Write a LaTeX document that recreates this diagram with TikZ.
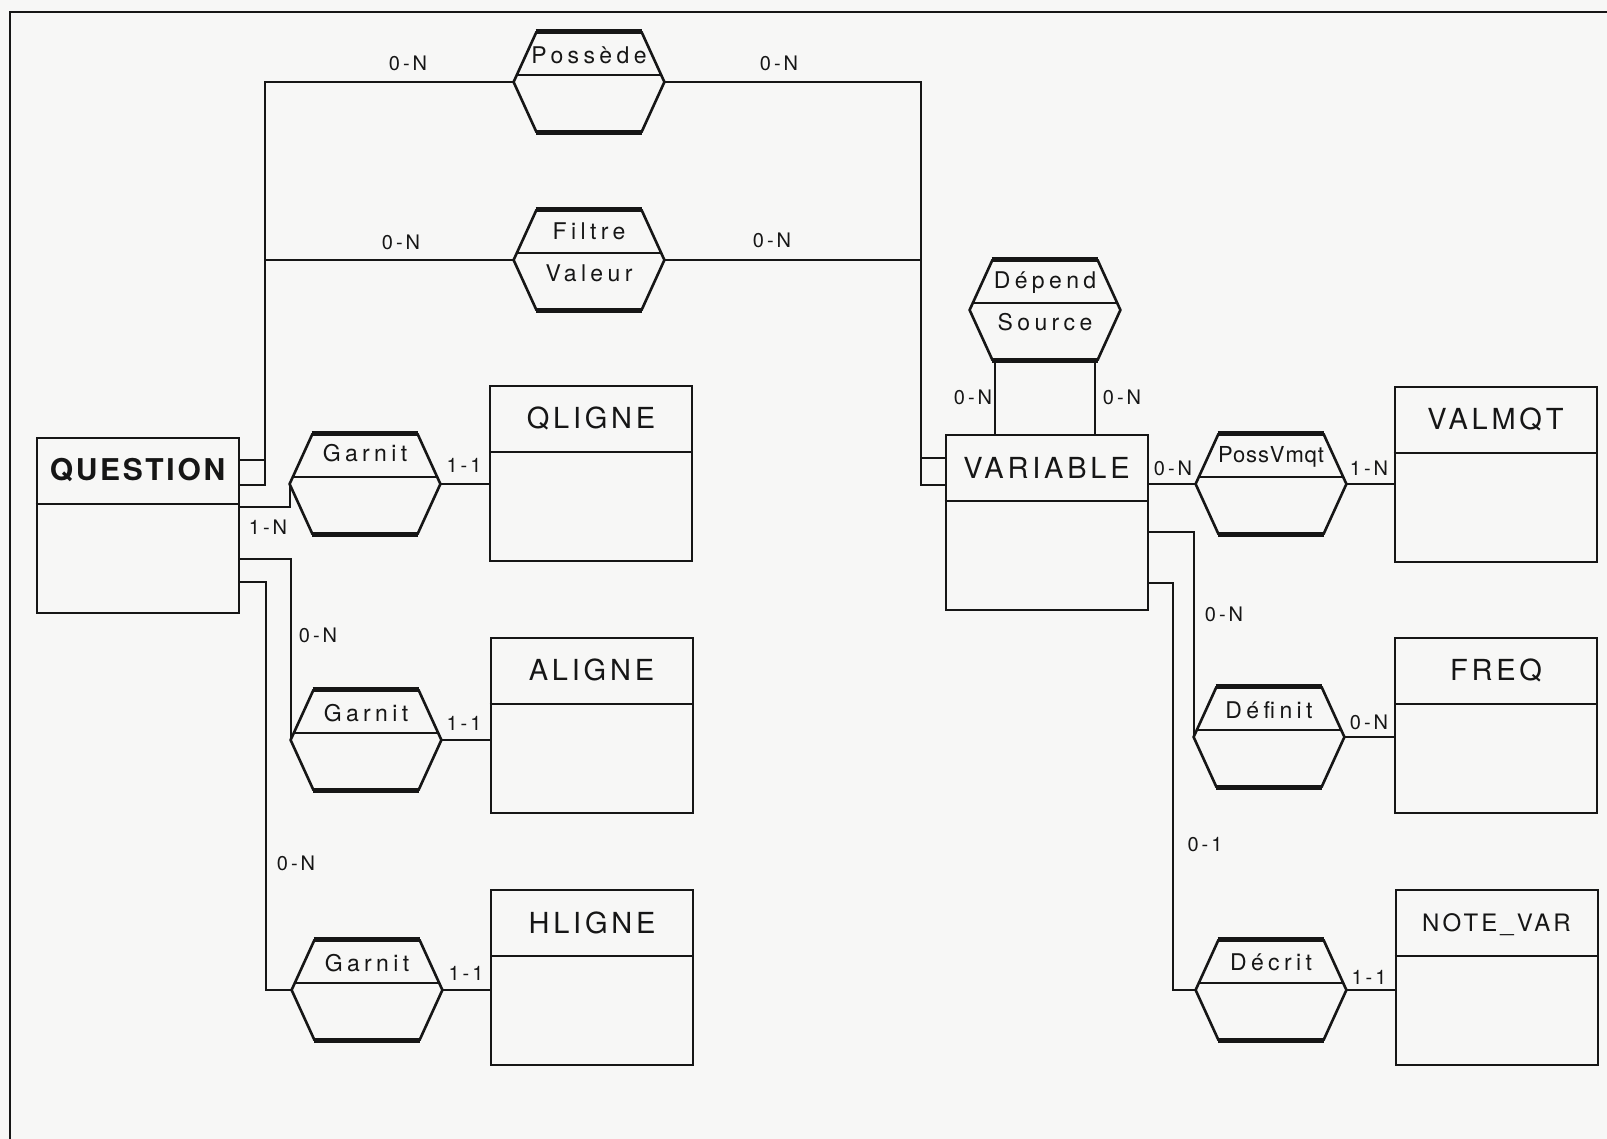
\documentclass[tikz,border=0pt]{standalone}
\usepackage{fontspec}
\usetikzlibrary{calc}
\setmainfont{TeX Gyre Heros}
\newfontfamily\entfont{TeX Gyre Heros}[LetterSpace=13]
\newfontfamily\qfont{TeX Gyre Heros}[LetterSpace=9]
\newfontfamily\relfont{TeX Gyre Heros}[LetterSpace=19]
\newfontfamily\relnarrow{TeX Gyre Heros}[LetterSpace=4]
\newfontfamily\cardfont{TeX Gyre Heros}[LetterSpace=15]
\definecolor{inkc}{RGB}{22,22,22}
\definecolor{bgc}{RGB}{247,247,246}
\newcommand\drawhex[1]{%
  \draw[hexside] ($(#1.north west)+(23,0)$) -- (#1.west) -- ($(#1.south west)+(23,0)$);
  \draw[hexside] ($(#1.north east)+(-23,0)$) -- (#1.east) -- ($(#1.south east)+(-23,0)$);
  \draw[hexedge] ($(#1.north west)+(22,0)$) -- ($(#1.north east)+(-22,0)$);
  \draw[hexedge] ($(#1.south west)+(22,0)$) -- ($(#1.south east)+(-22,0)$);
  \draw[ln] ($(#1.west)+(3.2,-7)$) -- ($(#1.east)+(-3.2,-7)$);
}
\newcommand\entdiv[1]{\draw[ln] ($(#1.north west)+(0,67)$) -- ($(#1.north east)+(0,67)$);}
\begin{document}
\begin{tikzpicture}[x=0.5pt,y=-0.5pt,
  ln/.style={line width=1pt, draw=inkc},
  conn/.style={line width=1pt, draw=inkc},
  entbox/.style={draw=inkc, line width=1pt, minimum width=101pt, minimum height=87.5pt, inner sep=0pt},
  relbox/.style={minimum width=75pt, minimum height=50pt, inner sep=0pt},
  enttxt/.style={inner sep=0pt, text=inkc, font=\entfont\fontsize{14.5}{16}\selectfont},
  reltxt/.style={inner sep=0pt, text=inkc, font=\relfont\fontsize{11.5}{13}\selectfont},
  card/.style={inner sep=0pt, text=inkc, font=\cardfont\fontsize{10}{11}\selectfont},
  hexside/.style={line width=1.3pt, draw=inkc, line join=miter},
  hexedge/.style={line width=2.2pt, draw=inkc},
]
\fill[bgc] (0,0) rectangle (1607,1139);
\useasboundingbox (0,0) rectangle (1607,1139);
\draw[line width=1.2pt, draw=inkc] (10,1139) -- (10,12) -- (1607,12);

% entities
\node[entbox] (question) at (137.5,525) {};
\node[enttxt, font=\qfont\bfseries\fontsize{15}{17}\selectfont] (question-t) at ($(question.north)+(0,33.5)$) {QUESTION};
\node[entbox] (qligne) at (591,473.5) {};
\node[enttxt] (qligne-t) at ($(qligne.north)+(0,33.5)$) {QLIGNE};
\node[entbox] (aligne) at (591.5,725) {};
\node[enttxt] (aligne-t) at ($(aligne.north)+(0,33.5)$) {ALIGNE};
\node[entbox] (hligne) at (592,977.5) {};
\node[enttxt] (hligne-t) at ($(hligne.north)+(0,33.5)$) {HLIGNE};
\node[entbox] (variable) at (1046.5,522.5) {};
\node[enttxt] (variable-t) at ($(variable.north)+(0,33.5)$) {VARIABLE};
\node[entbox] (valmqt) at (1495.5,474) {};
\node[enttxt] (valmqt-t) at ($(valmqt.north)+(0,33.5)$) {VALMQT};
\node[entbox] (freq) at (1496,725.5) {};
\node[enttxt] (freq-t) at ($(freq.north)+(0,33.5)$) {FREQ};
\node[entbox] (notevar) at (1496.5,977.5) {};
\node[enttxt, font=\entfont\fontsize{12}{14}\selectfont] (notevar-t) at ($(notevar.north)+(0,36)$) {NOTE\_VAR};
\entdiv{question}\entdiv{qligne}\entdiv{aligne}\entdiv{hligne}
\entdiv{variable}\entdiv{valmqt}\entdiv{freq}\entdiv{notevar}

% relationships
\node[relbox] (pos) at (589,82) {};
\drawhex{pos}
\node[reltxt] (pos-t) at ($(pos)+(0,-27)$) {Possède};
\node[relbox] (fil) at (589,260) {};
\drawhex{fil}
\node[reltxt] (fil-t) at ($(fil)+(0,-29)$) {Filtre};
\node[reltxt] (fil-b) at ($(fil)+(0,13)$) {Valeur};
\node[relbox] (dep) at (1045,310) {};
\drawhex{dep}
\node[reltxt] (dep-t) at ($(dep)+(0,-27)$) {Dépend};
\node[reltxt] (dep-b) at ($(dep)+(0,12)$) {Source};
\node[relbox] (gq) at (365,484) {};
\drawhex{gq}
\node[reltxt] (gq-t) at ($(gq)+(0,-31)$) {Garnit};
\node[relbox] (ga) at (366,740) {};
\drawhex{ga}
\node[reltxt] (ga-t) at ($(ga)+(0,-27)$) {Garnit};
\node[relbox] (gh) at (367,990) {};
\drawhex{gh}
\node[reltxt] (gh-t) at ($(gh)+(0,-27)$) {Garnit};
\node[relbox] (pv) at (1271,484) {};
\drawhex{pv}
\node[reltxt, font=\relnarrow\fontsize{11}{13}\selectfont] (pv-t) at ($(pv)+(0,-27)$) {PossVmqt};
\node[relbox] (def) at (1269,737) {};
\drawhex{def}
\node[reltxt] (def-t) at ($(def)+(0,-27)$) {Définit};
\node[relbox] (dec) at (1271,990) {};
\drawhex{dec}
\node[reltxt] (dec-t) at ($(dec)+(0,-28)$) {Décrit};

% connectors
\draw[conn] ($(question.north east)+(0,48.5)$) -- ++(25,0) |- (pos.west);
\draw[conn] ($(question.north east)+(0,23.5)$) -- ++(25,0) |- (fil.west);
\draw[conn] (pos.east) -| ($(variable.north west)+(-24,51)$) -- ($(variable.north west)+(0,51)$);
\draw[conn] (fil.east) -| ($(variable.north west)+(-24,24)$) -- ($(variable.north west)+(0,24)$);
\draw[conn] ($(question.north east)+(0,70.5)$) -| (gq.west);
\draw[conn] (gq.east) -- (gq.east -| qligne.west);
\draw[conn] ($(question.north east)+(0,122.5)$) -| (ga.west);
\draw[conn] (ga.east) -- (ga.east -| aligne.west);
\draw[conn] ($(question.north east)+(0,145.5)$) -- ++(26,0) |- (gh.west);
\draw[conn] (gh.east) -- (gh.east -| hligne.west);
\coordinate (depl) at ($(dep.south)+(-50,0)$);
\coordinate (depr) at ($(dep.south)+(50,0)$);
\draw[conn] (depl) -- (depl |- variable.north);
\draw[conn] (depr) -- (depr |- variable.north);
\draw[conn] (pv.west -| variable.east) -- (pv.west);
\draw[conn] (pv.east) -- (pv.east -| valmqt.west);
\draw[conn] ($(variable.north east)+(0,98)$) -| (def.west);
\draw[conn] (def.east) -- (def.east -| freq.west);
\draw[conn] ($(variable.north east)+(0,149)$) -- ++(24,0) |- (dec.west);
\draw[conn] (dec.east) -- (dec.east -| notevar.west);

% cardinalities
\node[card] (c1) at (408,63) {0-N};
\node[card] (c2) at (779,63) {0-N};
\node[card] (c3) at (401,242) {0-N};
\node[card] (c4) at (772,240) {0-N};
\node[card] (c5) at (973,397) {0-N};
\node[card] (c6) at (1122,397) {0-N};
\node[card] (c7) at (268,527) {1-N};
\node[card] (c8) at (464,465) {1-1};
\node[card] (c9) at (318,635) {0-N};
\node[card] (c10) at (464,723) {1-1};
\node[card] (c11) at (296,863) {0-N};
\node[card] (c12) at (466,973) {1-1};
\node[card] (c13) at (1173,468) {0-N};
\node[card] (c14) at (1369,468) {1-N};
\node[card] (c15) at (1224,614) {0-N};
\node[card] (c16) at (1369,722) {0-N};
\node[card] (c17) at (1205,845) {0-1};
\node[card] (c18) at (1369,977) {1-1};
\end{tikzpicture}
\end{document}
